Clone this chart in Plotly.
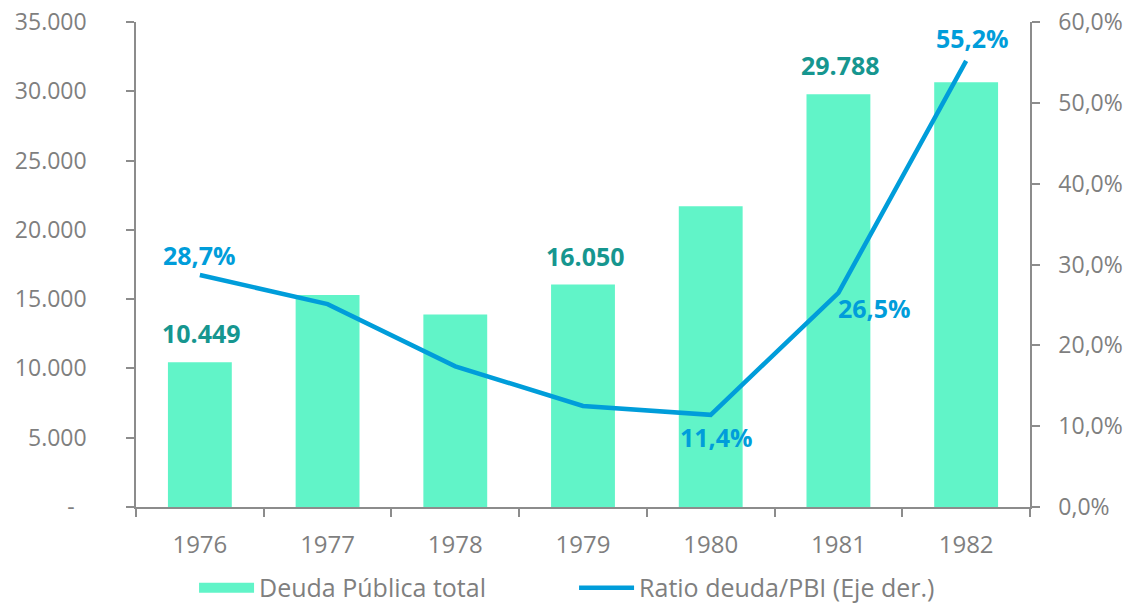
import plotly.graph_objects as go

years = ["1976", "1977", "1978", "1979", "1980", "1981", "1982"]
deuda = [10449, 15300, 13900, 16050, 21700, 29788, 30650]
ratio = [28.7, 25.1, 17.4, 12.5, 11.4, 26.5, 55.2]

bar_label_years = ["1976", "1979", "1981"]
line_label_years = ["1976", "1980", "1981", "1982"]

left_tickvals = [0, 5000, 10000, 15000, 20000, 25000, 30000, 35000]
left_ticktext = ["-\u00a0\u00a0", "5.000", "10.000", "15.000", "20.000", "25.000", "30.000", "35.000"]
right_tickvals = [0, 10, 20, 30, 40, 50, 60]
right_ticktext = ["0,0%", "10,0%", "20,0%", "30,0%", "40,0%", "50,0%", "60,0%"]

BAR_COLOR = "#61F4C8"
LINE_COLOR = "#009DDA"
BAR_LABEL_COLOR = "#16968F"
GRAY = "#7F7F7F"
AXIS = "#8C8C8C"
FONT = "Open Sans"


def fmt_int(v):
    return f"{v:,}".replace(",", ".")


def fmt_pct(v):
    return f"{v:.1f}%".replace(".", ",")


fig = go.Figure()
fig.add_trace(go.Bar(
    x=years, y=deuda, name="Deuda Pública total",
    marker=dict(color=BAR_COLOR, line=dict(width=0)),
    yaxis="y", showlegend=False,
))
# legend swatch for the bar series (wide rectangle, as in the reference)
fig.add_trace(go.Scatter(
    x=[None], y=[None], name="Deuda Pública total",
    mode="lines", line=dict(color=BAR_COLOR, width=19),
    yaxis="y",
))
fig.add_trace(go.Scatter(
    x=years, y=ratio, name="Ratio deuda/PBI (Eje der.)",
    mode="lines", line=dict(color=LINE_COLOR, width=4.5, shape="linear"),
    yaxis="y2",
))

annotations = []
for i, (yr, v) in enumerate(zip(years, deuda)):
    if yr in bar_label_years:
        annotations.append(dict(
            x=i, y=v, xref="x", yref="y", text=f"<b>{fmt_int(v)}</b>",
            showarrow=False, yanchor="middle", yshift=29, xshift=2,
            font=dict(family=FONT, size=25, color=BAR_LABEL_COLOR),
        ))

line_shifts = {"1976": (0, 20), "1980": (6, -22), "1981": (36, -15), "1982": (6, 23)}
for i, (yr, v) in enumerate(zip(years, ratio)):
    if yr in line_label_years:
        dx, dy = line_shifts[yr]
        annotations.append(dict(
            x=i, y=v, xref="x", yref="y2", text=f"<b>{fmt_pct(v)}</b>",
            showarrow=False, yanchor="middle", xshift=dx, yshift=dy,
            font=dict(family=FONT, size=25, color=LINE_COLOR),
        ))

fig.update_layout(
    width=1137, height=604,
    margin=dict(l=136, r=107, t=22, b=97, autoexpand=False),
    paper_bgcolor="white", plot_bgcolor="white",
    font=dict(family=FONT, size=23, color=GRAY),
    bargap=0.5,
    showlegend=True,
    legend=dict(
        orientation="h", x=0.49, xanchor="center", y=-0.167, yanchor="middle",
        font=dict(family=FONT, size=25, color=GRAY), itemwidth=55,
        entrywidth=310, entrywidthmode="pixels",
        bgcolor="rgba(0,0,0,0)", traceorder="normal",
    ),
    xaxis=dict(
        type="category", range=[-0.5, 6.5], showgrid=False, showline=True, linecolor=AXIS, linewidth=1.5,
        ticks="outside", tickson="boundaries", ticklen=8, tickcolor=AXIS, tickwidth=1.5,
        tickfont=dict(family=FONT, size=24, color=GRAY), tickangle=0, ticklabelstandoff=15,
    ),
    yaxis=dict(
        range=[0, 35000], tickvals=left_tickvals, ticktext=left_ticktext,
        showgrid=False, showline=True, linecolor=AXIS, linewidth=1.5,
        ticks="outside", ticklen=8, tickcolor=AXIS, tickwidth=1.5, zeroline=False,
        tickfont=dict(family=FONT, size=23, color=GRAY), ticklabelstandoff=35,
        ticklabeloverflow="allow",
    ),
    yaxis2=dict(
        range=[0, 60], tickvals=right_tickvals, ticktext=right_ticktext,
        overlaying="y", side="right",
        showgrid=False, showline=True, linecolor=AXIS, linewidth=1.5,
        ticks="outside", ticklen=8, tickcolor=AXIS, tickwidth=1.5, zeroline=False,
        tickfont=dict(family=FONT, size=23, color=GRAY), ticklabelstandoff=14,
        ticklabeloverflow="allow",
    ),
    annotations=annotations,
)

fig.write_html(
    "out.html",
    config={"displayModeBar": False},
    post_script="document.body.style.margin='0';",
)
